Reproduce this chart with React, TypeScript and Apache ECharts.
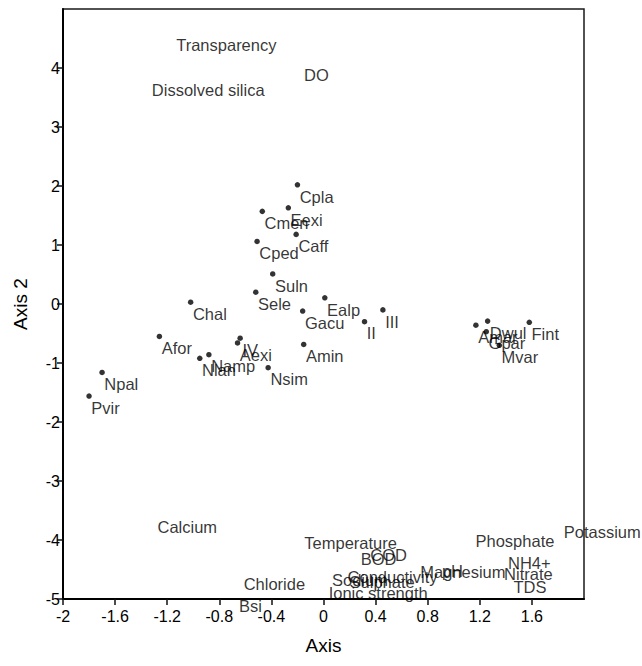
import React, { useEffect, useRef } from "react";
import * as echarts from "echarts";

// Species (points with dots)
const speciesNames = [
  "Cpla", "Eexi", "Cmen", "Caff", "Cped", "Suln", "Sele", "Chal", "Ealp", "Gacu",
  "II", "III", "IV", "Aexi", "Afor", "Nlan", "Namp", "Amin", "Nsim", "Npal", "Pvir",
  "Amar", "Dwul", "Fint", "Gpar", "Mvar",
];
const speciesX = [
  -0.20, -0.27, -0.47, -0.21, -0.51, -0.39, -0.52, -1.02, 0.01, -0.16,
  0.315, 0.456, -0.64, -0.66, -1.26, -0.95, -0.88, -0.152, -0.425, -1.70, -1.80,
  1.17, 1.26, 1.58, 1.25, 1.35,
];
const speciesY = [
  2.02, 1.63, 1.57, 1.18, 1.06, 0.51, 0.20, 0.03, 0.105, -0.12,
  -0.30, -0.10, -0.58, -0.66, -0.55, -0.92, -0.86, -0.685, -1.08, -1.16, -1.56,
  -0.36, -0.29, -0.31, -0.47, -0.70,
];

// Environmental variables (text only, centred on coordinates)
const envNames = [
  "Transparency", "DO", "Dissolved silica", "Calcium", "Potassium", "Phosphate",
  "NH4+", "Nitrate", "TDS", "Magnesium", "pH", "Temperature", "BOD", "COD",
  "Sodium", "Conductivity", "Sulphate", "Ionic strength", "Chloride", "Bsi",
];
const envX = [
  -0.746, -0.054, -0.885, -1.046, 2.14, 1.47,
  1.58, 1.573, 1.585, 1.07, 0.99, 0.208, 0.423, 0.50,
  0.28, 0.53, 0.45, 0.42, -0.377, -0.56,
];
const envY = [
  4.39, 3.88, 3.63, -3.78, -3.87, -4.01,
  -4.39, -4.57, -4.79, -4.54, -4.53, -4.05, -4.32, -4.26,
  -4.67, -4.63, -4.72, -4.90, -4.75, -5.12,
];

const xTicks = [-2, -1.6, -1.2, -0.8, -0.4, 0, 0.4, 0.8, 1.2, 1.6];
const yTicks = [-5, -4, -3, -2, -1, 0, 1, 2, 3, 4];

const FONT = "Liberation Sans, Arial, sans-serif";
const TEXT = "#000000";

export default function App() {
  const ref = useRef<HTMLDivElement>(null);
  useEffect(() => {
    if (!ref.current) return;
    const chart = echarts.init(ref.current, undefined, { renderer: "svg" });
    const speciesData = speciesNames.map((n, i) => ({ name: n, value: [speciesX[i], speciesY[i]] }));
    const envData = envNames.map((n, i) => ({ name: n, value: [envX[i], envY[i]] }));
    chart.setOption({
      animation: false,
      backgroundColor: "#ffffff",
      grid: {
        left: 63, right: 58, top: 9, bottom: 67,
        show: true, borderColor: "#1a1a1a", borderWidth: 1.5, backgroundColor: "transparent",
      },
      xAxis: {
        type: "value", min: -2, max: 2, interval: 0.4,
        name: "Axis", nameLocation: "middle", nameGap: 37,
        nameTextStyle: { fontFamily: FONT, fontSize: 19, color: TEXT },
        axisLine: { show: true, onZero: false, lineStyle: { color: "#000", width: 2 } },
        axisTick: { show: true, length: 6, customValues: xTicks, lineStyle: { color: "#111", width: 1.5 } },
        axisLabel: { customValues: xTicks, margin: 9, fontFamily: FONT, fontSize: 16, color: TEXT },
        splitLine: { show: false },
      },
      yAxis: {
        type: "value", min: -5, max: 5, interval: 1,
        name: "Axis 2", nameLocation: "middle", nameGap: 33,
        nameTextStyle: { fontFamily: FONT, fontSize: 19, color: TEXT },
        axisLine: { show: true, onZero: false, lineStyle: { color: "#000", width: 2 } },
        axisTick: { show: true, length: 6, customValues: yTicks, lineStyle: { color: "#111", width: 1.5 } },
        axisLabel: { customValues: yTicks, margin: 3, fontFamily: FONT, fontSize: 16, color: TEXT },
        splitLine: { show: false },
      },
      series: [
        {
          type: "scatter",
          data: speciesData,
          symbol: "circle",
          symbolSize: 5.5,
          clip: false,
          itemStyle: { color: "#000" },
          label: {
            show: true,
            formatter: "{b}",
            position: [5, 6],
            align: "left",
            verticalAlign: "top",
            fontFamily: FONT,
            fontSize: 16.5,
            color: TEXT,
          },
        },
        {
          type: "scatter",
          data: envData,
          symbol: "circle",
          symbolSize: 1,
          clip: false,
          itemStyle: { color: "rgba(0,0,0,0)" },
          label: {
            show: true,
            formatter: "{b}",
            position: "inside",
            fontFamily: FONT,
            fontSize: 16.5,
            color: TEXT,
          },
        },
      ],
    });
    return () => chart.dispose();
  }, []);
  return (
    <div
      ref={ref}
      style={{ position: "fixed", left: 0, top: 0, width: 642, height: 666, background: "#fff" }}
    />
  );
}
